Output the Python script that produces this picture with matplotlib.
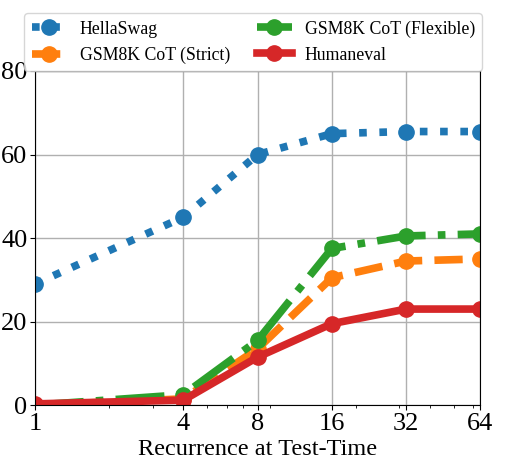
import numpy as np
import matplotlib
matplotlib.use("Agg")
import matplotlib.pyplot as plt
from matplotlib.ticker import FixedLocator, NullFormatter, FixedFormatter

plt.rcParams['font.family'] = ['Liberation Serif', 'DejaVu Serif']

# data
recurrence = [1, 4, 8, 16, 32, 64]
hellaswag = [29.0, 45.0, 60.0, 65.0, 65.5, 65.5]
gsm8k_strict = [0.0, 1.5, 13.5, 30.5, 34.5, 35.0]
gsm8k_flex = [0.0, 2.5, 15.5, 37.5, 40.5, 41.0]
humaneval = [0.3, 1.2, 11.5, 19.5, 23.0, 23.0]

fig = plt.figure(figsize=(5.29, 4.70), dpi=100)
ax = fig.add_axes([0.066, 0.138, 0.842, 0.711])

lw = 5.5
ms = 11
ax.plot(recurrence, hellaswag, ':', color='tab:blue', lw=lw, marker='o', ms=ms, label='HellaSwag')
ax.plot(recurrence, gsm8k_strict, '--', color='tab:orange', lw=lw, marker='o', ms=ms, label='GSM8K CoT (Strict)')
ax.plot(recurrence, gsm8k_flex, '-.', color='tab:green', lw=lw, marker='o', ms=ms, label='GSM8K CoT (Flexible)')
ax.plot(recurrence, humaneval, '-', color='tab:red', lw=lw, marker='o', ms=ms, label='Humaneval')

ax.set_xscale('log')
ax.set_xlim(1, 64)
ax.set_ylim(0, 80)
ax.xaxis.set_major_locator(FixedLocator(recurrence))
ax.xaxis.set_major_formatter(FixedFormatter([str(r) for r in recurrence]))
ax.xaxis.set_minor_formatter(NullFormatter())
ax.set_yticks([0, 20, 40, 60, 80])
ax.tick_params(axis='both', labelsize=19, pad=2)
ax.grid(True, which='major', color='#b0b0b0', lw=1)
ax.set_axisbelow(True)
ax.set_xlabel('Recurrence at Test-Time', fontsize=17.5, labelpad=3)

ax.legend(loc='lower center', bbox_to_anchor=(0.49, 1.0), ncol=2, fontsize=12.8,
          frameon=True, handlelength=2.0, columnspacing=1.5, borderaxespad=0,
          handletextpad=0.7, labelspacing=0.5, borderpad=0.4)

fig.savefig('out.png', dpi=100)
